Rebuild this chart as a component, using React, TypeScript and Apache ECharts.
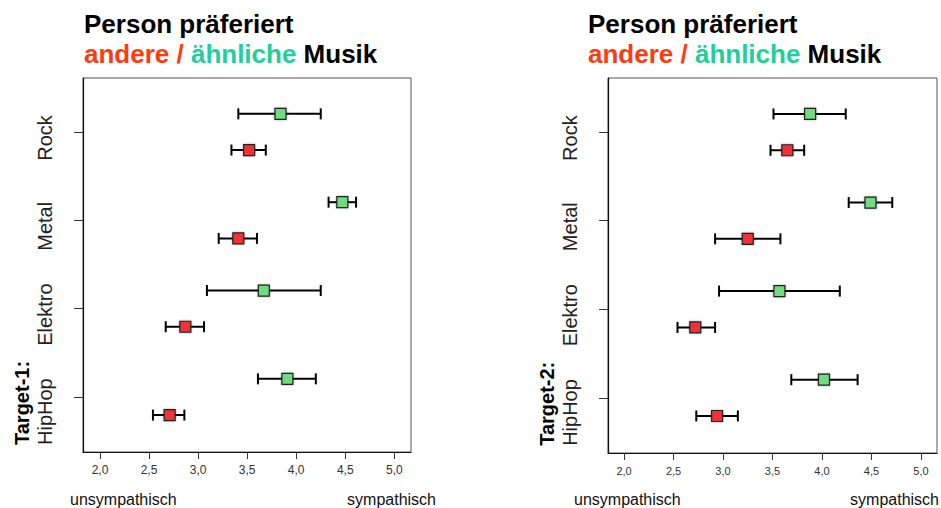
import React, { useEffect, useRef } from "react";
import * as echarts from "echarts";

// Categories, bottom to top (y = 1..4)
const categories = ["HipHop", "Elektro", "Metal", "Rock"];
const xTicks = [2.0, 2.5, 3.0, 3.5, 4.0, 4.5, 5.0];
const titleLine1 = "Person präferiert";
const titleOther = "andere / ";
const titleSimilar = "ähnliche";
const titleMusic = " Musik";
const axisLeftName = "unsympathisch";
const axisRightName = "sympathisch";

// Target-1 (left panel)
const t1Label = "Target-1:";
const t1OtherMean = [2.71, 2.87, 3.41, 3.52];
const t1OtherLo = [2.54, 2.67, 3.21, 3.34];
const t1OtherHi = [2.86, 3.06, 3.60, 3.69];
const t1SimilarMean = [3.91, 3.67, 4.47, 3.84];
const t1SimilarLo = [3.61, 3.09, 4.33, 3.41];
const t1SimilarHi = [4.20, 4.25, 4.61, 4.25];

// Target-2 (right panel)
const t2Label = "Target-2:";
const t2OtherMean = [2.94, 2.72, 3.25, 3.65];
const t2OtherLo = [2.73, 2.54, 2.92, 3.48];
const t2OtherHi = [3.15, 2.92, 3.58, 3.82];
const t2SimilarMean = [4.02, 3.57, 4.49, 3.88];
const t2SimilarLo = [3.69, 2.96, 4.27, 3.51];
const t2SimilarHi = [4.36, 4.18, 4.71, 4.24];

const FONT = "'Liberation Sans', Arial, Helvetica, sans-serif";
const RED = "#EE3138";
const GREEN = "#6FDC82";
const TITLE_RED = "#FF3A10";
const TITLE_TEAL = "#20CF9B";
const OFFSET = 0.205;

function errSeries(idx: number, lo: number[], hi: number[], off: number) {
  return {
    type: "custom",
    xAxisIndex: idx,
    yAxisIndex: idx,
    z: 2,
    encode: { x: [0, 1], y: 2 },
    data: lo.map((l, i) => [l, hi[i], i + 1 + off]),
    renderItem: (params: any, api: any) => {
      const a = api.coord([api.value(0), api.value(2)]);
      const b = api.coord([api.value(1), api.value(2)]);
      const h = 5.5;
      const st = { stroke: "#000", lineWidth: 2 };
      return {
        type: "group",
        children: [
          { type: "line", shape: { x1: a[0], y1: a[1], x2: b[0], y2: b[1] }, style: st },
          { type: "line", shape: { x1: a[0], y1: a[1] - h, x2: a[0], y2: a[1] + h }, style: st },
          { type: "line", shape: { x1: b[0], y1: b[1] - h, x2: b[0], y2: b[1] + h }, style: st },
        ],
      };
    },
  };
}

function markSeries(idx: number, mean: number[], off: number, color: string) {
  return {
    type: "scatter",
    xAxisIndex: idx,
    yAxisIndex: idx,
    z: 3,
    symbol: "rect",
    symbolSize: 11,
    itemStyle: {
      color,
      opacity: 1,
      borderColor: "#222",
      borderWidth: 1.2,
      shadowBlur: 2,
      shadowColor: "rgba(0,0,0,0.35)",
    },
    data: mean.map((m, i) => [m, i + 1 + off]),
  };
}

function xAxis(idx: number, min: number, max: number, fontSize: number) {
  return {
    type: "value",
    gridIndex: idx,
    min,
    max,
    axisLine: { show: true, onZero: false, lineStyle: { color: "#111", width: 1.2 } },
    axisTick: { show: true, customValues: xTicks, length: 7, lineStyle: { color: "#333", width: 1 } },
    axisLabel: {
      customValues: xTicks,
      fontSize,
      fontFamily: FONT,
      color: "#333",
      margin: 12,
      formatter: (v: number) => v.toFixed(1).replace(".", ","),
    },
    splitLine: { show: false },
  };
}

function yAxis(idx: number, label: string) {
  return {
    type: "value",
    gridIndex: idx,
    min: 0.377,
    max: 4.611,
    axisLine: { show: true, onZero: false, lineStyle: { color: "#111", width: 1.2 } },
    axisTick: { show: true, customValues: [1, 2, 3, 4], length: 9, lineStyle: { color: "#333", width: 1 } },
    axisLabel: {
      customValues: [1, 2, 3, 4],
      rotate: 90,
      margin: 27,
      fontSize: 20,
      fontFamily: FONT,
      color: "#222",
      padding: [0, 12, 0, 0],
      formatter: (v: number) => {
        const i = Math.round(v) - 1;
        const name = categories[i];
        return i === 0 ? `{t|${label}}\n{c|${name}}` : `{c|${name}}`;
      },
      rich: {
        t: { fontSize: 20, fontWeight: "bold", color: "#000", fontFamily: FONT, align: "left", lineHeight: 23 },
        c: { fontSize: 20, color: "#222", fontFamily: FONT, align: "left", lineHeight: 23 },
      },
    },
    splitLine: { show: false },
  };
}

function title(left: number) {
  return {
    left,
    top: 9,
    padding: 0,
    text: `{b|${titleLine1}}\n{r|${titleOther}}{g|${titleSimilar}}{b|${titleMusic}}`,
    textStyle: {
      rich: {
        b: { fontSize: 26, fontWeight: "bold", color: "#000", fontFamily: FONT, lineHeight: 30 },
        r: { fontSize: 26, fontWeight: "bold", color: TITLE_RED, fontFamily: FONT, lineHeight: 30 },
        g: { fontSize: 26, fontWeight: "bold", color: TITLE_TEAL, fontFamily: FONT, lineHeight: 30 },
      },
    },
  };
}

function axisNameText(x: number, y: number, text: string, align: string) {
  return {
    type: "text",
    x,
    y,
    style: { text, fontSize: 16, fontFamily: FONT, fill: "#111", align, verticalAlign: "middle" },
  };
}

export default function App() {
  const ref = useRef<HTMLDivElement>(null);
  useEffect(() => {
    if (!ref.current) return;
    const chart = echarts.init(ref.current, null, { renderer: "svg" });
    chart.setOption({
      animation: false,
      backgroundColor: "#fff",
      title: [title(84), title(588)],
      grid: [
        { left: 83, top: 78, width: 328, height: 374, show: true, borderColor: "#555", borderWidth: 1 },
        { left: 608, top: 78, width: 329, height: 375, show: true, borderColor: "#555", borderWidth: 1 },
      ],
      xAxis: [xAxis(0, 1.827, 5.17, 12), xAxis(1, 1.838, 5.162, 11)],
      yAxis: [yAxis(0, t1Label), yAxis(1, t2Label)],
      series: [
        errSeries(0, t1OtherLo, t1OtherHi, -OFFSET),
        errSeries(0, t1SimilarLo, t1SimilarHi, OFFSET),
        markSeries(0, t1OtherMean, -OFFSET, RED),
        markSeries(0, t1SimilarMean, OFFSET, GREEN),
        errSeries(1, t2OtherLo, t2OtherHi, -OFFSET),
        errSeries(1, t2SimilarLo, t2SimilarHi, OFFSET),
        markSeries(1, t2OtherMean, -OFFSET, RED),
        markSeries(1, t2SimilarMean, OFFSET, GREEN),
      ],
      graphic: [
        axisNameText(70, 499, axisLeftName, "left"),
        axisNameText(436, 499, axisRightName, "right"),
        axisNameText(574, 499, axisLeftName, "left"),
        axisNameText(939, 499, axisRightName, "right"),
      ],
    });
    return () => chart.dispose();
  }, []);
  return (
    <div
      ref={ref}
      style={{ position: "absolute", left: 0, top: 0, width: 941, height: 508 }}
    />
  );
}
